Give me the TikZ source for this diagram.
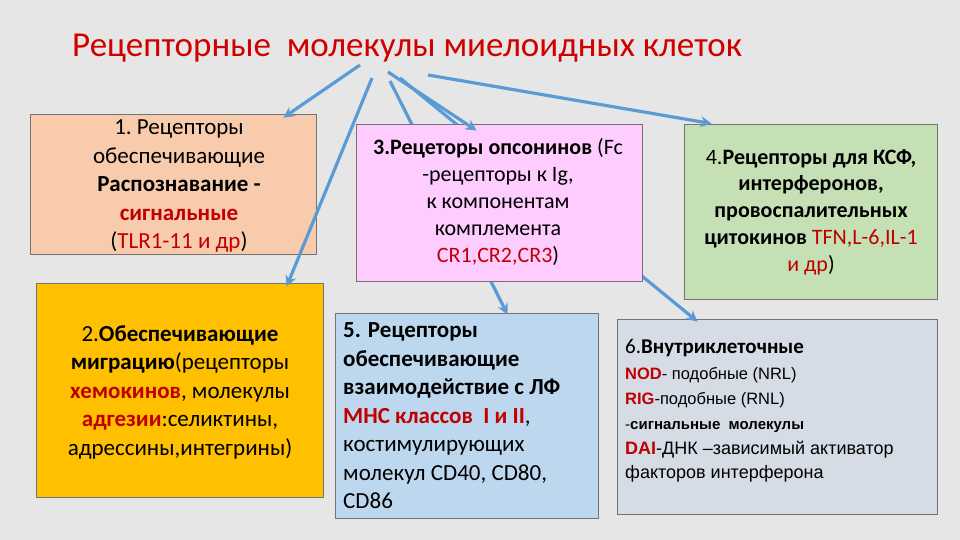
\documentclass[tikz,border=0pt]{standalone}
\usepackage{fontspec}
\setmainfont{Carlito}
\newfontfamily\arialfont{Liberation Sans}
\usetikzlibrary{arrows.meta,positioning,calc}
\definecolor{slideBg}{HTML}{E7E6E6}
\definecolor{titleRed}{HTML}{D00000}
\definecolor{termRed}{HTML}{C00000}
\definecolor{arrowBlue}{HTML}{5B9BD5}
\definecolor{peachFill}{HTML}{F8CBAD}
\definecolor{goldFill}{HTML}{FFC000}
\definecolor{pinkFill}{HTML}{FFCCFF}
\definecolor{greenFill}{HTML}{C5E0B4}
\definecolor{blueFill}{HTML}{BDD7EE}
\definecolor{greyFill}{HTML}{D6DCE5}
\newcommand{\redterm}[1]{\textcolor{termRed}{#1}}
\newcommand{\redbold}[1]{\textcolor{termRed}{\textbf{#1}}}
\tikzset{
  recbox/.style={draw=black!55, line width=0.8pt, inner sep=0pt},
  boxtext/.style={font=\fontsize{23}{28.5}\selectfont, align=center, inner sep=0pt},
  titletext/.style={font=\fontsize{35}{40}\selectfont, text=titleRed, inner sep=0pt},
  link/.style={draw=arrowBlue, line width=3.2pt, -{Stealth[length=11pt,width=11pt]}},
}
\begin{document}
\begin{tikzpicture}[x=1pt, y=-1pt]
  \fill[slideBg] (0,0) rectangle (960,540);
  \node[titletext, anchor=base west] (title) at (72,57) {Рецепторные\ \ молекулы миелоидных клеток};
  % start points under the title
  \coordinate (s1) at (360,65);
  \coordinate (s2) at (372,78);
  \coordinate (s3) at (388,72);
  \coordinate (s4) at (390,81);
  \coordinate (s5) at (400,78);
  \coordinate (s6) at (428,75);
  % boxes
  \node[recbox, fill=peachFill, minimum width=286, minimum height=140] (recog) at (173,184) {};
  \node[boxtext] (recogtxt) at (179,186) {1.~Рецепторы\\обеспечивающие\\\textbf{Распознавание -}\\\redbold{сигнальные}\\(\redterm{TLR1-11 и др})};
  \node[recbox, fill=goldFill, minimum width=287, minimum height=214] (migr) at (179.5,390) {};
  \node[boxtext] (migrtxt) at (180,392) {2.\textbf{Обеспечивающие}\\\textbf{миграцию}(рецепторы\\\redbold{хемокинов}, молекулы\\\redbold{адгезии}:селиктины,\\адрессины,интегрины)};
  \node[recbox, fill=greenFill, minimum width=253, minimum height=175] (csf) at (810.5,211.5) {};
  \node[boxtext, font=\fontsize{22}{26.8}\selectfont] (csftxt) at (811,212) {4.\textbf{Рецепторы для КСФ,}\\\textbf{интерферонов,}\\\textbf{провоспалительных}\\\textbf{цитокинов} \redterm{TFN,L-6,IL-1}\\\redterm{и др})};
  \node[recbox, fill=blueFill, minimum width=263, minimum height=205] (lymph) at (466.5,415.5) {};
  \node[boxtext, align=left, anchor=west] (lymphtxt) at (343,416) {\textbf{5. Рецепторы}\\\textbf{обеспечивающие}\\\textbf{взаимодействие с ЛФ}\\\redbold{МНС классов\ \ I и II},\\костимулирующих\\молекул CD40, CD80,\\CD86};
  \node[recbox, fill=greyFill, minimum width=320, minimum height=195] (intra) at (777,416.5) {};
  \node[boxtext, align=left, anchor=west, font=\fontsize{17}{24}\selectfont] (intratxt) at (625,411) {\fontsize{21}{24}\selectfont 6.\textbf{Внутриклеточные}\\[2pt]
    \arialfont\fontsize{16.5}{24}\selectfont\redbold{NOD}- подобные (NRL)\\[1pt]
    \arialfont\fontsize{16.5}{24}\selectfont\redbold{RIG}-подобные (RNL)\\[1pt]
    \arialfont\fontsize{15}{24}\selectfont-\textbf{сигнальные\ \ молекулы}\\[1pt]
    \arialfont\fontsize{18}{24}\selectfont\redbold{DAI}-ДНК –зависимый активатор\\
    \arialfont\fontsize{18}{24}\selectfont факторов интерферона};
  % arrows from the title
  \draw[link] (s1) -- ([xshift=-33,yshift=-4]recog.north east);
  \draw[link] (s2) -- ([xshift=251,yshift=-4]migr.north west);
  \draw[link] (s4) -- ([xshift=173,yshift=-2]lymph.north west);
  \draw[link] (s5) -- ([xshift=81,yshift=-3]intra.north west);
  \draw[link] (s6) -- ([xshift=28,yshift=0]csf.north west);
  \node[recbox, fill=pinkFill, minimum width=286, minimum height=157] (opson) at (499,202.5) {};
  \node[boxtext, font=\fontsize{22}{26.8}\selectfont] (opsontxt) at (498,202) {\textbf{3.Рецеторы опсонинов} (Fc\\-рецепторы к Ig,\\к компонентам\\комплемента\\\redterm{CR1,CR2,CR3})};
  \draw[link] (s3) -- ([xshift=121,yshift=-7]opson.north west);
\end{tikzpicture}
\end{document}
